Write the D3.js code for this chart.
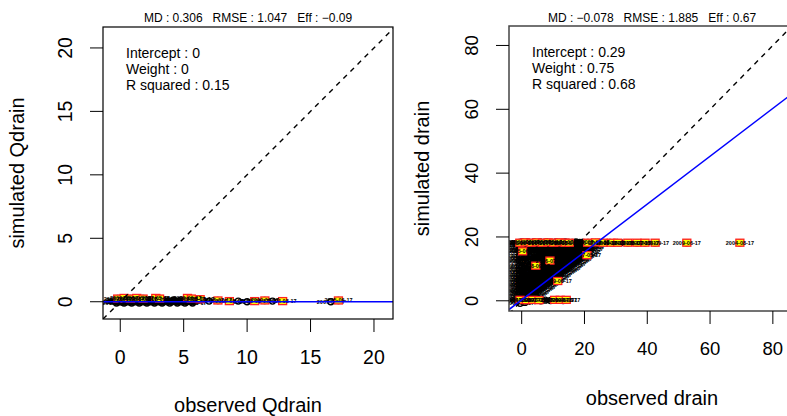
<!DOCTYPE html>
<html><head><meta charset="utf-8">
<script src="https://cdn.jsdelivr.net/npm/d3@7"></script>
<style>body{margin:0;background:#fff}svg{display:block;font-family:"Liberation Sans",Arial,Helvetica,sans-serif}</style>
</head><body><svg id="c" width="787" height="416"></svg>
<script>
// ---------------- DATA ----------------
const leftTicks = [0, 5, 10, 15, 20];
const rightTicks = [0, 20, 40, 60, 80];
const leftTitle = "MD : 0.306   RMSE : 1.047   Eff : \u22120.09";
const rightTitle = "MD : \u22120.078   RMSE : 1.885   Eff : 0.67";
const leftNotes = ["Intercept : 0", "Weight : 0", "R squared : 0.15"];
const rightNotes = ["Intercept : 0.29", "Weight : 0.75", "R squared : 0.68"];
const leftReg = [0, 0];        // intercept, weight
const rightReg = [0.29, 0.75]; // intercept, weight
const dateLabels = ["2005-06-17", "2006-07-17", "2007-05-17", "2008-09-17", "2009-06-17", "2004-08-17"];

// left panel: observed Qdrain vs simulated Qdrain
const leftPts = [[-0.25,0],[-0.15,0.05],[-0.05,0],[0.02,0.1],[0.08,0],[0.15,0.05],[0.22,0],[0.3,0.05],[0.38,0],[0.46,0.1],[0.55,0],[0.64,0.05],[0.73,0],[0.82,0.1],[0.92,0],[1.02,0.05],[1.12,0],[1.23,0.1],[1.34,0],[1.46,0.05],[1.58,0],[1.7,0.1],[1.83,0],[1.96,0.05],[2.1,0],[2.25,0.1],[2.4,0],[2.55,0.05],[2.7,0],[2.86,0.05],[3.02,0],[3.18,0.1],[3.35,0],[3.52,0.05],[3.7,0],[3.88,0.05],[4.06,0],[4.25,0.1],[4.45,0],[4.65,0.05],[4.85,0],[5.05,0.05],[5.25,0],[5.45,0.1],[5.65,0],[5.85,0.05],[7.0,0.05],[9.3,0.05],[10.0,0],[12.0,0.05],[16.6,0]];
const leftPts2 = [[-0.3,-0.1],[0,0.15],[0.3,-0.1],[0.6,0.15],[0.9,-0.1],[1.2,0.15],[1.5,-0.1],[1.8,0.15],[2.1,-0.1],[2.4,0.15],[2.7,-0.1],[3.0,0.15],[3.3,-0.1],[3.6,0.15],[3.9,-0.1],[4.2,0.15],[4.5,-0.1],[4.8,0.15],[5.1,-0.1],[5.4,0.15],[5.7,-0.1],[6.0,0.1]];
const leftHi = [[-0.2,0.25],[0.3,0.3],[0.8,0.25],[1.3,0.3],[1.8,0.25],[2.8,0.3],[3.1,0.25],[5.3,0.3],[5.6,0.25],[6.3,0.2],[7.7,0.1],[8.6,0.05],[10.6,0.05],[11.4,0.1],[12.8,0.05],[17.2,0.1]];

// right panel: observed drain vs simulated drain
const rightTop = [[-0.8,18.3],[-0.4,18.1],[0,18.4],[0.4,18.2],[0.9,18.3],[1.4,18.1],[1.9,18.4],[2.4,18.2],[2.9,18.3],[3.4,18.1],[3.9,18.4],[4.4,18.2],[4.9,18.3],[5.4,18.2],[5.9,18.4],[6.4,18.1],[6.9,18.3],[7.4,18.2],[7.9,18.4],[8.4,18.2],[8.9,18.3],[9.4,18.1],[9.9,18.3],[10.4,18.2],[10.9,18.4],[11.4,18.2],[11.9,18.3],[12.4,18.1],[12.9,18.3],[13.4,18.2],[13.9,18.4],[14.4,18.2],[14.9,18.3],[15.5,18.2],[16.1,18.3],[16.7,18.2],[17.3,18.4],[17.9,18.2],[18.5,18.3],[19.1,18.2],[19.7,18.3],[20.4,18.2],[21.1,18.3],[21.8,18.2],[22.6,18.3],[23.4,18.2],[24.2,18.3],[25.1,18.2],[26,18.3],[27,18.2],[28.1,18.3],[29.3,18.2],[30.4,18.3],[31.5,18.2]];
const rightSecond = [[-0.6,17.5],[0.6,17.4],[1.8,17.6],[3,17.4],[4.2,17.5],[5.4,17.4],[6.6,17.6],[7.8,17.4],[9,17.5],[10.2,17.4],[11.4,17.6],[12.6,17.4],[13.8,17.5],[15,17.4],[16.2,17.6],[17.4,17.4],[18.6,17.5],[19.8,17.4],[21,17.6]];
const rightBand = [
 [0,0],[0,1.5],[0,3],[0,4.5],[0,6],[0,7.5],[0,9],[0,10.5],[0,12],[0,13.5],[0,15],[0,16.5],
 [1,0.5],[1,2],[1,3.5],[1,5],[1,6.5],[1,8],[1,11],[1,14],[1,16],
 [2,1],[2,2.5],[2,4],[2,5.5],[2,7],[2,9.5],[2,12.5],[2,15.5],
 [3,1.8],[3,3.3],[3,4.8],[3,6.3],[3,7.8],[3,10],[3,13],
 [4,2.5],[4,4],[4,5.5],[4,7],[4,8.5],[4,11.5],[4,15],
 [5,3.3],[5,4.8],[5,6.3],[5,7.8],[5,9.3],[5,12.5],
 [6,4],[6,5.5],[6,7],[6,8.5],[6,10],[6,11.5],[6,14.5],[6,16.5],
 [7,4.8],[7,6.3],[7,7.8],[7,9.3],[7,10.8],[7,12.3],[7,13.8],[7,16],
 [8,5.5],[8,7],[8,8.5],[8,10],[8,11.5],[8,13],[8,14.5],[8,16],
 [9,6.3],[9,7.8],[9,9.3],[9,10.8],[9,12.3],[9,13.8],[9,15.3],[9,16.8],
 [10,7],[10,8.5],[10,10],[10,11.5],[10,13],[10,14.5],[10,16],[10,17],
 [11,7.8],[11,9.3],[11,10.8],[11,12.3],[11,13.8],[11,15.3],[11,16.8],
 [12,8.6],[12,10.1],[12,11.6],[12,13.1],[12,14.6],[12,16.1],[12,17.3],
 [13,9.3],[13,10.8],[13,12.3],[13,13.8],[13,15.3],[13,16.8],
 [14,10],[14,11.5],[14,13],[14,14.5],[14,16],[14,17.3],
 [15,10.8],[15,12.3],[15,13.8],[15,15.3],[15,16.8],
 [16,11.6],[16,13.1],[16,14.6],[16,16.1],[16,17.4],
 [17,12.4],[17,13.9],[17,15.4],[17,16.9],
 [18,13.2],[18,14.7],[18,16.2],[18,17.5],
 [19,14],[19,15.5],[19,17],
 [20,14.8],[20,16.3],[20,17.6],
 [21,15.8],[21,17.2],[22,16.8]];
const rightBand2 = [
 [-0.7,0.5],[-0.7,2],[-0.7,3.5],[-0.7,5],[-0.7,6.5],[-0.7,8],[-0.7,9.5],[-0.7,11],[-0.7,12.5],[-0.7,14],[-0.7,15.5],[-0.7,17],
 [0.5,0.8],[0.5,2.3],[0.5,3.8],[0.5,5.3],[0.5,6.8],[0.5,8.3],[0.5,9.8],[0.5,12.8],[0.5,15.8],
 [1.5,1.3],[1.5,2.8],[1.5,4.3],[1.5,5.8],[1.5,7.3],[1.5,9],[1.5,13.5],[1.5,16.8],
 [2.5,1.6],[2.5,3.1],[2.5,4.6],[2.5,6.1],[2.5,7.6],[2.5,11],[2.5,14],
 [3.5,2.2],[3.5,3.7],[3.5,5.2],[3.5,6.7],[3.5,8.2],[3.5,9.7],[3.5,16],
 [4.5,2.9],[4.5,4.4],[4.5,5.9],[4.5,7.4],[4.5,8.9],[4.5,13.5],
 [5.5,3.6],[5.5,5.1],[5.5,6.6],[5.5,8.1],[5.5,9.6],[5.5,11.1],[5.5,15.5],
 [6.5,4.4],[6.5,5.9],[6.5,7.4],[6.5,8.9],[6.5,10.4],[6.5,11.9],[6.5,13.4],[6.5,15.5],
 [7.5,5.2],[7.5,6.7],[7.5,8.2],[7.5,9.7],[7.5,11.2],[7.5,12.7],[7.5,14.2],[7.5,15.7],[7.5,17],
 [8.5,5.9],[8.5,7.4],[8.5,8.9],[8.5,10.4],[8.5,11.9],[8.5,13.4],[8.5,14.9],[8.5,16.4],
 [9.5,6.6],[9.5,8.1],[9.5,9.6],[9.5,11.1],[9.5,12.6],[9.5,14.1],[9.5,15.6],[9.5,17],
 [10.5,7.4],[10.5,8.9],[10.5,10.4],[10.5,11.9],[10.5,13.4],[10.5,14.9],[10.5,16.4],
 [11.5,8.2],[11.5,9.7],[11.5,11.2],[11.5,12.7],[11.5,14.2],[11.5,15.7],[11.5,17],
 [12.5,9],[12.5,10.5],[12.5,12],[12.5,13.5],[12.5,15],[12.5,16.5],
 [13.5,9.7],[13.5,11.2],[13.5,12.7],[13.5,14.2],[13.5,15.7],[13.5,17],
 [14.5,10.4],[14.5,11.9],[14.5,13.4],[14.5,14.9],[14.5,16.4],
 [15.5,11.2],[15.5,12.7],[15.5,14.2],[15.5,15.7],[15.5,17],
 [16.5,12],[16.5,13.5],[16.5,15],[16.5,16.5],
 [17.5,12.8],[17.5,14.3],[17.5,15.8],[17.5,17.2],
 [18.5,13.6],[18.5,15.1],[18.5,16.6],
 [19.5,14.4],[19.5,15.9],[19.5,17.3],
 [20.5,15.3],[20.5,16.8],[21.5,16.3],[21.5,17.6],
 [-0.5,-0.8],[1,-0.5],[2.5,0.3]];
const rightBottom = [[-0.9,0],[0.5,0.1],[2.3,0],[4.2,0.1],[6.1,0],[7.5,0.2],[9.2,0.1],[11.4,0.2],[13.2,0.1]];
const rightHi = [[-0.6,18.2],[1.2,18.3],[3.0,18.2],[4.8,18.3],[6.6,18.2],[8.4,18.3],[10.2,18.2],[12.0,18.3],[13.8,18.2],[15.2,18.2],[21.0,18.2],[23.5,18.3],[26.0,18.2],[28.5,18.2],[30.6,18.2],[33.8,18.2],[36.7,18.2],[39.3,18.2],[42.5,18.2],[52.6,18.2],[69.5,18.2],
 [0.3,15.5],[9,12.6],[20.8,14.3],[4.5,11],[11.5,6.2],
 [-0.5,0.3],[1.5,0.2],[3.5,0.3],[5.5,0.2],[10.5,0.3],[12.3,0.3],[14.2,0.3]];

// ---------------- DRAW ----------------
const svg = d3.select("#c");
let clipId = 0;

function panel(cfg) {
  const x = d3.scaleLinear().domain(cfg.xd).range([cfg.x0, cfg.x1]);
  const y = d3.scaleLinear().domain(cfg.yd).range([cfg.y1, cfg.y0]);
  const id = "clip" + (clipId++);
  svg.append("clipPath").attr("id", id).append("rect")
    .attr("x", cfg.x0).attr("y", cfg.y0).attr("width", cfg.x1 - cfg.x0).attr("height", cfg.y1 - cfg.y0);
  const g = svg.append("g").attr("clip-path", `url(#${id})`);

  function marks(sel, data, cls, offset) {
    sel.selectAll("circle." + cls).data(data).enter().append("circle").attr("class", cls)
      .attr("cx", d => x(d[0])).attr("cy", d => y(d[1])).attr("r", 3)
      .attr("fill", "none").attr("stroke", "#000").attr("stroke-width", 1.4);
  }
  function labels(sel, data, cls, offset) {
    sel.selectAll("text." + cls).data(data).enter().append("text").attr("class", cls)
      .attr("x", d => x(d[0])).attr("y", d => y(d[1]) + 2)
      .attr("text-anchor", "middle").attr("font-size", 5.5).attr("font-weight", "bold").attr("fill", "#000")
      .text((d, i) => dateLabels[(i + offset) % dateLabels.length]);
  }
  // ordinary points with their date labels
  marks(g, cfg.pts, "p");
  labels(g, cfg.pts, "lp", 0);
  // highlighted points: yellow squares with red border, then their labels
  marks(g, cfg.hi, "h");
  g.selectAll("rect.h").data(cfg.hi).enter().append("rect").attr("class", "h")
    .attr("x", d => x(d[0]) - 4).attr("y", d => y(d[1]) - 3.5).attr("width", 8).attr("height", 7)
    .attr("fill", "#ffff00").attr("stroke", "#ff2020").attr("stroke-width", 1.3);
  labels(g, cfg.hi, "lh", 3);

  // 1:1 dashed line
  const lo = Math.min(cfg.xd[0], cfg.yd[0]), hi = Math.max(cfg.xd[1], cfg.yd[1]);
  g.append("line").attr("x1", x(lo)).attr("y1", y(lo)).attr("x2", x(hi)).attr("y2", y(hi))
    .attr("stroke", "#000").attr("stroke-width", 1.4).attr("stroke-dasharray", "5,5");
  // regression line
  g.append("line").attr("x1", x(cfg.xd[0])).attr("y1", y(cfg.reg[0] + cfg.reg[1] * cfg.xd[0]))
    .attr("x2", x(cfg.xd[1])).attr("y2", y(cfg.reg[0] + cfg.reg[1] * cfg.xd[1]))
    .attr("stroke", "#0000ff").attr("stroke-width", 1.5);

  // frame
  svg.append("rect").attr("x", cfg.x0).attr("y", cfg.y0).attr("width", cfg.x1 - cfg.x0).attr("height", cfg.y1 - cfg.y0)
    .attr("fill", "none").attr("stroke", cfg.frame).attr("stroke-width", cfg.frameW);

  // x ticks
  cfg.ticks.forEach(t => {
    svg.append("line").attr("x1", x(t)).attr("x2", x(t)).attr("y1", cfg.y1).attr("y2", cfg.y1 + 13)
      .attr("stroke", "#000").attr("stroke-width", 1);
    svg.append("text").attr("x", x(t)).attr("y", cfg.xLabY).attr("text-anchor", "middle")
      .attr("font-size", cfg.fs).attr("fill", "#000").text(t);
  });
  // y ticks
  cfg.ticks.forEach(t => {
    svg.append("line").attr("x1", cfg.x0 - 13).attr("x2", cfg.x0).attr("y1", y(t)).attr("y2", y(t))
      .attr("stroke", "#000").attr("stroke-width", 1);
    svg.append("text").attr("transform", `translate(${cfg.yLabX},${y(t)}) rotate(-90)`)
      .attr("text-anchor", "middle").attr("font-size", cfg.fs).attr("fill", "#000").text(t);
  });

  // axis titles
  svg.append("text").attr("x", cfg.xTitleX).attr("y", cfg.xTitleY).attr("text-anchor", "middle")
    .attr("font-size", 20).attr("fill", "#000").text(cfg.xTitle);
  svg.append("text").attr("transform", `translate(${cfg.yTitleX},${(cfg.y0 + cfg.y1) / 2}) rotate(-90)`)
    .attr("text-anchor", "middle").attr("font-size", 20).attr("fill", "#000").text(cfg.yTitle);

  // top stats
  svg.append("text").attr("x", cfg.titleX).attr("y", 22).attr("text-anchor", "middle")
    .attr("font-size", 12).attr("fill", "#000").style("white-space", "pre").text(cfg.title);

  // notes
  cfg.notes.forEach((n, i) => {
    svg.append("text").attr("x", cfg.noteX).attr("y", cfg.noteY + i * 16)
      .attr("font-size", 14).attr("fill", "#000").text(n);
  });
}

panel({
  x0: 103, x1: 393, y0: 27, y1: 319,
  xd: [-1.36, 21.5], yd: [-1.36, 21.65],
  pts: leftPts.concat(leftPts2), hi: leftHi, reg: leftReg, ticks: leftTicks,
  frame: "#000", frameW: 1.2, fs: 19.5,
  xLabY: 364, yLabX: 72, xTitle: "observed Qdrain", yTitle: "simulated Qdrain",
  xTitleX: 248, xTitleY: 412, yTitleX: 24,
  title: leftTitle, titleX: 248, notes: leftNotes, noteX: 126, noteY: 58
});

panel({
  x0: 509, x1: 792, y0: 26, y1: 311,
  xd: [-4.04, 86.1], yd: [-3.2, 86.1],
  pts: rightTop.concat(rightSecond, rightBand, rightBand2, rightBottom), hi: rightHi, reg: rightReg, ticks: rightTicks,
  frame: "#444", frameW: 1.5, fs: 18.5,
  xLabY: 355, yLabX: 478, xTitle: "observed drain", yTitle: "simulated drain",
  xTitleX: 652, xTitleY: 405, yTitleX: 429,
  title: rightTitle, titleX: 652, notes: rightNotes, noteX: 532, noteY: 57
});
</script></body></html>
